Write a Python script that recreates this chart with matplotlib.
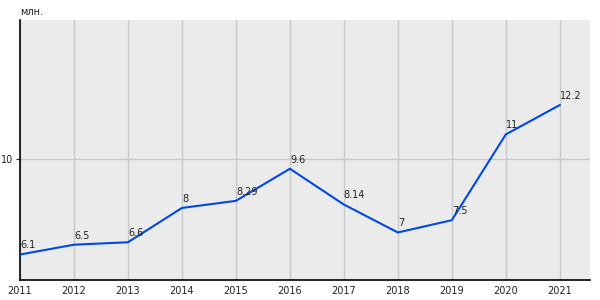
import numpy as np
import matplotlib.pyplot as plt

years = [2011, 2012, 2013, 2014, 2015, 2016, 2017, 2018, 2019, 2020, 2021]
values = [6.1, 6.5, 6.6, 8.0, 8.29, 9.6, 8.14, 7.0, 7.5, 11.0, 12.2]
labels = ['6.1', '6.5', '6.6', '8', '8.29', '9.6', '8.14', '7', '7.5', '11', '12.2']

fig = plt.figure(figsize=(6, 3), dpi=100)
ax = fig.add_axes([20 / 600, 20 / 300, 570 / 600, 260 / 300])
ax.set_facecolor('#ebebeb')

ax.plot(years, values, color='#0048e6', lw=1.5, zorder=3)
for x, y, t in zip(years, values, labels):
    ax.annotate(t, (x, y), xytext=(0, 3), textcoords='offset points',
                ha='left', va='bottom', fontsize=7, color='#222222', zorder=4)

ax.set_xlim(2011, 2021.56)
ax.set_ylim(5.06, 15.67)
ax.set_xticks(years)
ax.set_yticks([10])
ax.tick_params(axis='x', length=0, labelsize=7, pad=4, colors='#222222')
ax.tick_params(axis='y', length=3, labelsize=7, pad=2, colors='#222222')
ax.grid(color='#c8c8c8', lw=1)
ax.set_axisbelow(True)

for s in ['top', 'right']:
    ax.spines[s].set_visible(False)
for s in ['left', 'bottom']:
    ax.spines[s].set_color('black')
    ax.spines[s].set_linewidth(1.2)

fig.text(20 / 600, 1 - 12 / 300, 'млн.', fontsize=7, va='center', ha='left', color='#222222')

plt.savefig('out.png')
